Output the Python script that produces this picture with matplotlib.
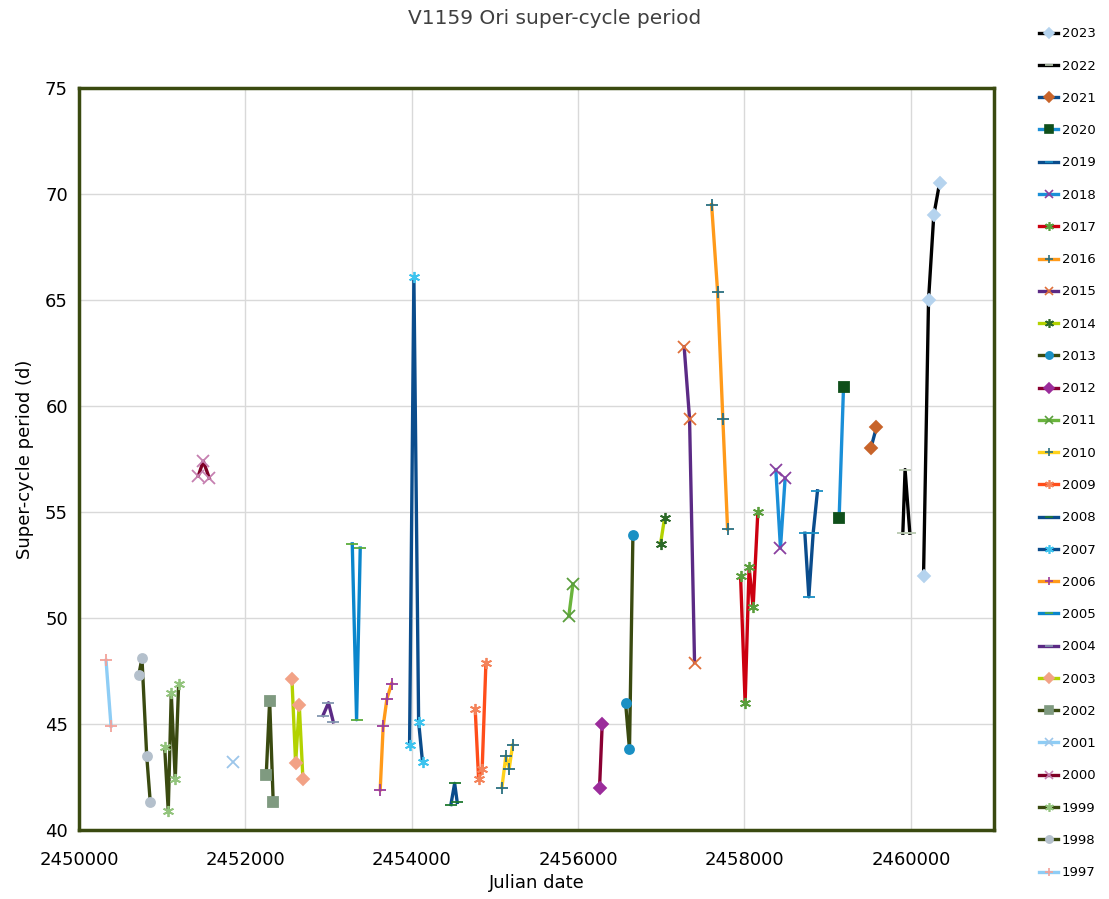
import matplotlib.pyplot as plt
from matplotlib.lines import Line2D

# Julian dates and super-cycle periods (d) for each observing season
jd_1997 = [2450325, 2450385]
p_1997 = [48.0, 44.9]
jd_1998 = [2450718, 2450757, 2450814, 2450857]
p_1998 = [47.3, 48.1, 43.5, 41.3]
jd_1999 = [2451030, 2451073, 2451109, 2451157, 2451198]
p_1999 = [43.9, 40.9, 46.45, 42.4, 46.9]
jd_2000 = [2451434, 2451494, 2451566]
p_2000 = [56.7, 57.4, 56.6]
jd_2001 = [2451855]
p_2001 = [43.2]
jd_2002 = [2452251, 2452292, 2452335]
p_2002 = [42.6, 46.1, 41.3]
jd_2003 = [2452560, 2452604, 2452648, 2452692]
p_2003 = [47.1, 43.15, 45.9, 42.4]
jd_2004 = [2452933, 2452999, 2453057]
p_2004 = [45.4, 46.0, 45.1]
jd_2005 = [2453285, 2453337, 2453381]
p_2005 = [53.5, 45.2, 53.3]
jd_2006 = [2453621, 2453657, 2453702, 2453758]
p_2006 = [41.9, 44.9, 46.2, 46.9]
jd_2007 = [2453974, 2454026, 2454083, 2454130]
p_2007 = [44.0, 66.1, 45.1, 43.2]
jd_2008 = [2454471, 2454516, 2454547]
p_2008 = [41.2, 42.2, 41.3]
jd_2009 = [2454763, 2454804, 2454847, 2454892]
p_2009 = [45.7, 42.4, 42.9, 47.9]
jd_2010 = [2455084, 2455132, 2455172, 2455213]
p_2010 = [42.0, 43.5, 42.9, 44.0]
jd_2011 = [2455889, 2455938]
p_2011 = [50.1, 51.6]
jd_2012 = [2456258, 2456290]
p_2012 = [42.0, 45.0]
jd_2013 = [2456571, 2456618, 2456659]
p_2013 = [46.0, 43.8, 53.9]
jd_2014 = [2456991, 2457039]
p_2014 = [53.5, 54.7]
jd_2015 = [2457275, 2457340, 2457400]
p_2015 = [62.8, 59.4, 47.9]
jd_2016 = [2457605, 2457677, 2457740, 2457797]
p_2016 = [69.5, 65.4, 59.4, 54.2]
jd_2017 = [2457953, 2458008, 2458056, 2458104, 2458161]
p_2017 = [52.0, 46.0, 52.4, 50.5, 55.0]
jd_2018 = [2458377, 2458433, 2458489]
p_2018 = [57.0, 53.3, 56.6]
jd_2019 = [2458726, 2458774, 2458826, 2458878]
p_2019 = [54.0, 51.0, 54.0, 56.0]
jd_2020 = [2459138, 2459191]
p_2020 = [54.7, 60.9]
jd_2021 = [2459519, 2459587]
p_2021 = [58.0, 59.0]
jd_2022 = [2459904, 2459931, 2459988]
p_2022 = [54.0, 57.0, 54.0]
jd_2023 = [2460153, 2460213, 2460276, 2460345]
p_2023 = [52.0, 65.0, 69.0, 70.5]

seasons = [
    ('1997', jd_1997, p_1997), ('1998', jd_1998, p_1998), ('1999', jd_1999, p_1999),
    ('2000', jd_2000, p_2000), ('2001', jd_2001, p_2001), ('2002', jd_2002, p_2002),
    ('2003', jd_2003, p_2003), ('2004', jd_2004, p_2004), ('2005', jd_2005, p_2005),
    ('2006', jd_2006, p_2006), ('2007', jd_2007, p_2007), ('2008', jd_2008, p_2008),
    ('2009', jd_2009, p_2009), ('2010', jd_2010, p_2010), ('2011', jd_2011, p_2011),
    ('2012', jd_2012, p_2012), ('2013', jd_2013, p_2013), ('2014', jd_2014, p_2014),
    ('2015', jd_2015, p_2015), ('2016', jd_2016, p_2016), ('2017', jd_2017, p_2017),
    ('2018', jd_2018, p_2018), ('2019', jd_2019, p_2019), ('2020', jd_2020, p_2020),
    ('2021', jd_2021, p_2021), ('2022', jd_2022, p_2022), ('2023', jd_2023, p_2023),
]

olive = '#3a4a10'
star = (6, 2, 0)  # asterisk-like marker
# line colour, marker, marker colour
styles = {
    '1997': ('#8ecdf5', '+', '#f2a29a'),
    '1998': (olive, 'o', '#b4c0cc'),
    '1999': (olive, star, '#93c47d'),
    '2000': ('#7f0026', 'x', '#c57fb0'),
    '2001': ('#8ecdf5', 'x', '#9cc6ea'),
    '2002': (olive, 's', '#7f9a80'),
    '2003': ('#b3d200', 'D', '#f2a286'),
    '2004': ('#5b2a85', '_', '#8497b0'),
    '2005': ('#0a86cc', '_', '#5aac3c'),
    '2006': ('#ff9a1a', '+', '#9b3b9b'),
    '2007': ('#0a4c8c', star, '#3dc3ee'),
    '2008': ('#0a4c8c', '_', '#1f7a30'),
    '2009': ('#ff4d1a', star, '#f4835a'),
    '2010': ('#ffd21a', '+', '#2a6f80'),
    '2011': ('#6ab43c', 'x', '#5a9e3c'),
    '2012': ('#8a0033', 'D', '#9b2c9b'),
    '2013': (olive, 'o', '#1a90c4'),
    '2014': ('#b3d200', star, '#2c6a28'),
    '2015': ('#5b2a85', 'x', '#e0703a'),
    '2016': ('#ff9a1a', '+', '#2a6f80'),
    '2017': ('#cc0010', star, '#5a9e3c'),
    '2018': ('#1a8fd8', 'x', '#8a3fa0'),
    '2019': ('#0a4c8c', '_', '#1a8fc4'),
    '2020': ('#1a8fd8', 's', '#0f4f1a'),
    '2021': ('#0a4c8c', 'D', '#c8642a'),
    '2022': ('#000000', '_', '#b8c8b0'),
    '2023': ('#000000', 'D', '#b5d3ee'),
}

fig = plt.figure(figsize=(11.09, 8.99), dpi=100)
ax = fig.add_axes([79 / 1109, 1 - 830 / 899, 915 / 1109, 742 / 899])

handles = []
for year, jd, per in seasons:
    lc, mk, mc = styles[year]
    ms = 8 if mk in ('_', '+', 'x', star) else 6.5
    ax.plot(jd, per, color=lc, lw=2.4, marker=mk, ms=ms, mfc=mc, mec=mc,
            mew=1.3, zorder=3)
    handles.append(Line2D([], [], color=lc, lw=2.4, marker=mk, ms=ms * 0.8,
                          mfc=mc, mec=mc, mew=1.2, label=year))

ax.set_xlim(2450000, 2461000)
ax.set_ylim(40, 75)
ax.set_xticks(range(2450000, 2461001, 2000))
ax.set_yticks(range(40, 76, 5))
ax.ticklabel_format(axis='x', useOffset=False, style='plain')
ax.tick_params(length=0, labelsize=13, colors='#000000')
ax.tick_params(axis='x', pad=15)
ax.tick_params(axis='y', pad=8)
ax.grid(True, color='#d9d9d9', lw=1)
ax.set_axisbelow(True)
for sp in ax.spines.values():
    sp.set_color(olive)
    sp.set_linewidth(2.5)

ax.set_xlabel('Julian date', fontsize=13, labelpad=4)
ax.set_ylabel('Super-cycle period (d)', fontsize=13, labelpad=8)
fig.text(0.5, 1 - 18 / 899, 'V1159 Ori super-cycle period', ha='center',
         va='center', fontsize=14.5, color='#404040')

fig.legend(handles=handles[::-1], loc='upper left',
           bbox_to_anchor=(1034 / 1109, 1 - 22 / 899), frameon=False,
           fontsize=9.5, handlelength=1.4, handletextpad=0.3,
           labelspacing=1.46, borderaxespad=0)

plt.savefig('out.png', dpi=100)
